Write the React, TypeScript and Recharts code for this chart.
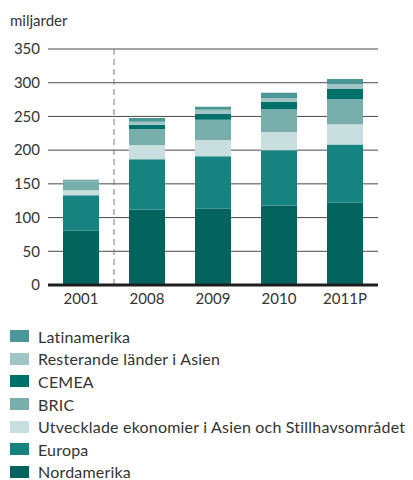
import { BarChart, Bar, XAxis, YAxis, CartesianGrid, Legend, ReferenceLine } from "recharts";

// Regional split, miljarder
const YEARS = ["2001", "2008", "2009", "2010", "2011P"];
const NORDAMERIKA = [80.5, 112, 113, 118, 122];
const EUROPA = [52.5, 74.5, 78, 82, 86.5];
const UTVECKLADE_ASIEN = [7.5, 21, 24, 27, 30];
const BRIC = [12, 24, 30, 34, 37];
const CEMEA = [1, 6, 9, 10.5, 15];
const RESTERANDE_ASIEN = [1, 4.5, 6, 6, 7.5];
const LATINAMERIKA = [1.5, 5.5, 4.5, 7.5, 7.5];
const Y_TICKS = [0, 50, 100, 150, 200, 250, 300, 350];

// stacking order bottom -> top
const SERIES = [
  { key: "nord", name: "Nordamerika", values: NORDAMERIKA, color: "#03635d" },
  { key: "europa", name: "Europa", values: EUROPA, color: "#168381" },
  { key: "utv", name: "Utvecklade ekonomier i Asien och Stillhavsområdet", values: UTVECKLADE_ASIEN, color: "#c8dedf" },
  { key: "bric", name: "BRIC", values: BRIC, color: "#78afad" },
  { key: "cemea", name: "CEMEA", values: CEMEA, color: "#00716a" },
  { key: "rest", name: "Resterande länder i Asien", values: RESTERANDE_ASIEN, color: "#a1c5c6" },
  { key: "latin", name: "Latinamerika", values: LATINAMERIKA, color: "#4a9795" },
];

const data = YEARS.map((year, i) => {
  const row: Record<string, string | number> = { year };
  SERIES.forEach((s) => {
    row[s.key] = s.values[i];
  });
  return row;
});

const FONT = "Lato, 'Open Sans', sans-serif";
const TEXT = "#333";

// legend lists the top of the stack first
const renderLegend = () => (
  <div style={{ height: 160, paddingTop: 5, boxSizing: "border-box" }}>
    {[...SERIES].reverse().map((s) => (
      <div key={s.key} style={{ display: "flex", alignItems: "center", height: 22.6 }}>
        <span
          style={{
            display: "inline-block",
            width: 19,
            height: 12,
            background: s.color,
            marginLeft: 10,
            marginRight: 9,
          }}
        />
        <span>{s.name}</span>
      </div>
    ))}
  </div>
);

export default function App() {
  return (
    <div style={{ position: "absolute", left: 0, top: 0, width: 413, height: 480, background: "#fff", fontFamily: FONT }}>
      <div style={{ position: "absolute", left: 10, top: 12, fontSize: 15, lineHeight: "17px", color: TEXT }}>
        miljarder
      </div>
      <BarChart
        width={413}
        height={480}
        data={data}
        margin={{ top: 49, right: 35, bottom: 0, left: 0 }}
        barSize={36}
      >
        <CartesianGrid vertical={false} stroke="#4a4a4a" />
        <XAxis
          dataKey="year"
          height={35}
          axisLine={{ stroke: "#1e1e1e", strokeWidth: 3 }}
          tickLine={false}
          tickMargin={2}
          tick={{ fontSize: 15, fill: TEXT, fontFamily: FONT }}
        />
        <YAxis
          width={48}
          domain={[0, 350]}
          ticks={Y_TICKS}
          axisLine={false}
          tickLine={false}
          tick={{ fontSize: 15, fill: TEXT, fontFamily: FONT }}
        />
        {SERIES.map((s) => (
          <Bar key={s.key} dataKey={s.key} name={s.name} stackId="a" fill={s.color} isAnimationActive={false} />
        ))}
        <ReferenceLine x="2001" position="end" stroke="#7a7a7a" strokeDasharray="6 4" />
        <Legend
          verticalAlign="bottom"
          content={renderLegend}
          wrapperStyle={{ left: 0, bottom: 0, width: 413, fontSize: 16, letterSpacing: 0.2, color: TEXT, fontFamily: FONT }}
        />
      </BarChart>
    </div>
  );
}
